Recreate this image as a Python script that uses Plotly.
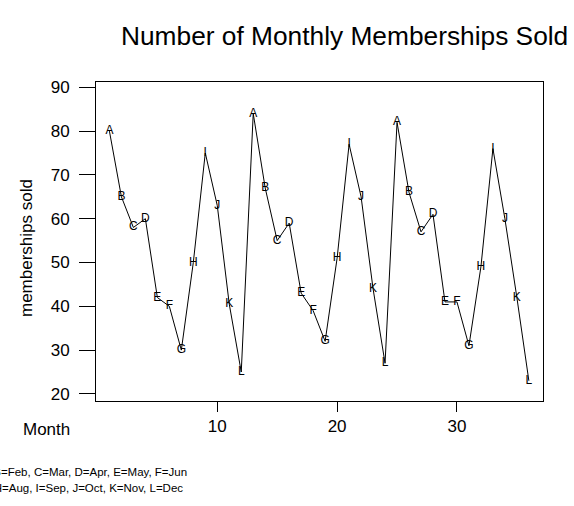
import plotly.graph_objects as go

# ---- data ----
months = list(range(1, 37))
letters = ["A", "B", "C", "D", "E", "F", "G", "H", "I", "J", "K", "L"] * 3
sold = [80, 65, 58, 60, 42, 40, 30, 50, 75, 63, 40.5, 25,
        84, 67, 55, 59, 43, 39, 32, 51, 77, 65, 44, 27,
        82, 66, 57, 61, 41, 41, 31, 49, 76, 60, 42, 23]
x_ticks = [10, 20, 30]
y_ticks = [20, 30, 40, 50, 60, 70, 80, 90]
legend_lines = ["A=Jan, B=Feb, C=Mar, D=Apr, E=May, F=Jun",
                "G=Jul, H=Aug, I=Sep, J=Oct, K=Nov, L=Dec"]

W, H = 574, 506
L, R, T, B = 96, 31, 82, 105
FONT = "Liberation Sans, Arial, sans-serif"


def px_x(px):
    return (px - L) / (W - L - R)


def px_y(py):
    return 1 - (py - T) / (H - T - B)


fig = go.Figure()
fig.add_trace(go.Scatter(
    x=months, y=sold, mode="lines+text", text=letters,
    textposition="middle center",
    textfont=dict(family=FONT, size=12, color="black"),
    line=dict(color="black", width=1),
    hoverinfo="x+y", showlegend=False, cliponaxis=False,
))

fig.update_layout(
    width=W, height=H,
    margin=dict(l=L, r=R, t=T, b=B, pad=0),
    paper_bgcolor="white", plot_bgcolor="white",
    font=dict(family=FONT, color="black"),
    xaxis=dict(range=[-0.12, 37.18], tickvals=x_ticks, showgrid=False,
               zeroline=False, showline=True, mirror=True, linecolor="black",
               linewidth=1, ticks="outside", ticklen=10, tickcolor="black",
               tickfont=dict(size=17, family=FONT), ticklabelstandoff=0),
    yaxis=dict(range=[18.38, 91.21], tickvals=y_ticks, showgrid=False,
               zeroline=False, showline=True, mirror=True, linecolor="black",
               linewidth=1, ticks="outside", ticklen=16, tickcolor="black",
               tickfont=dict(size=17, family=FONT), ticklabelstandoff=6),
    annotations=[
        dict(text="Number of Monthly Memberships Sold", xref="paper", yref="paper",
             x=px_x(344), y=px_y(36), xanchor="center", yanchor="middle",
             showarrow=False, font=dict(size=26.3, family=FONT)),
        dict(text="memberships sold", xref="paper", yref="paper",
             x=px_x(26), y=px_y(248), xanchor="center", yanchor="middle",
             textangle=-90, showarrow=False, font=dict(size=17, family=FONT)),
        dict(text="Month", xref="paper", yref="paper",
             x=px_x(46), y=px_y(429), xanchor="center", yanchor="middle",
             showarrow=False, font=dict(size=17, family=FONT)),
        dict(text=legend_lines[0], xref="paper", yref="paper",
             x=px_x(189), y=px_y(472), xanchor="right", yanchor="middle",
             showarrow=False, font=dict(size=11.5, family=FONT)),
        dict(text=legend_lines[1], xref="paper", yref="paper",
             x=px_x(185), y=px_y(488), xanchor="right", yanchor="middle",
             showarrow=False, font=dict(size=11.5, family=FONT)),
    ],
)

fig.write_html(
    "out.html",
    config={"displayModeBar": False},
    post_script="document.body.style.margin='0';document.body.style.overflow='hidden';",
)
